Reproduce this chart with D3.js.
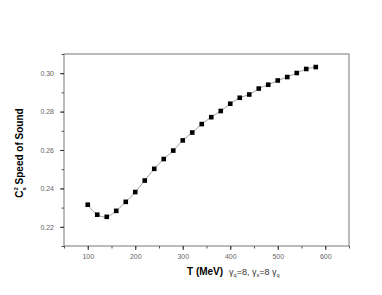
<!DOCTYPE html>
<meta charset="utf-8">
<style>
  body { margin: 0; background: #fff; }
  svg text { font-family: "Liberation Sans", Arial, sans-serif; }
</style>
<body>
<svg id="chart" width="382" height="295"></svg>
<script src="https://cdn.jsdelivr.net/npm/d3@7"></script>
<script>

// data
var temps = [100, 120, 140, 160, 180, 200, 220, 240, 260, 280, 300, 320, 340,
             360, 380, 400, 420, 440, 460, 480, 500, 520, 540, 560, 580];
var cs2 = [0.2315, 0.2263, 0.2252, 0.2283, 0.2330, 0.2381, 0.2441, 0.2502, 0.2553,
           0.2597, 0.2650, 0.2691, 0.2735, 0.2771, 0.2803, 0.2841, 0.2872, 0.2889,
           0.2920, 0.2940, 0.2962, 0.2980, 0.3001, 0.3022, 0.3032];
var xTicks = [100, 200, 300, 400, 500, 600];
var yTicks = [0.22, 0.24, 0.26, 0.28, 0.30];

var svg = d3.select("#chart");
var mLeft = 64, mTop = 54, mRight = 349, mBottom = 246;

var x = d3.scaleLinear().domain([50, 650]).range([mLeft, mRight]);
var y = d3.scaleLinear().domain([0.21, 0.31]).range([mBottom, mTop]);

// frame
svg.append("rect")
  .attr("x", mLeft).attr("y", mTop)
  .attr("width", mRight - mLeft).attr("height", mBottom - mTop)
  .attr("fill", "none").attr("stroke", "#777").attr("stroke-width", 1);

// minor ticks
svg.append("g")
  .attr("transform", "translate(0," + mBottom + ")")
  .call(d3.axisBottom(x).tickValues(d3.range(50, 651, 50)).tickSize(2.5).tickFormat(""))
  .call(function(g) { g.select(".domain").remove(); })
  .selectAll("line").attr("stroke", "#555");
svg.append("g")
  .attr("transform", "translate(" + mLeft + ",0)")
  .call(d3.axisLeft(y).tickValues(d3.range(0.21, 0.3101, 0.01)).tickSize(2.5).tickFormat(""))
  .call(function(g) { g.select(".domain").remove(); })
  .selectAll("line").attr("stroke", "#555");

// major ticks + labels
var xAxis = svg.append("g")
  .attr("transform", "translate(0," + mBottom + ")")
  .call(d3.axisBottom(x).tickValues(xTicks).tickSize(4).tickPadding(4).tickFormat(d3.format("d")));
xAxis.select(".domain").remove();
xAxis.selectAll("line").attr("stroke", "#333");
xAxis.selectAll("text").attr("font-size", 7).attr("fill", "#666")
  .attr("font-family", "'Liberation Sans', Arial, sans-serif");

var yAxis = svg.append("g")
  .attr("transform", "translate(" + mLeft + ",0)")
  .call(d3.axisLeft(y).tickValues(yTicks).tickSize(4).tickPadding(6).tickFormat(d3.format(".2f")));
yAxis.select(".domain").remove();
yAxis.selectAll("line").attr("stroke", "#333");
yAxis.selectAll("text").attr("font-size", 7).attr("fill", "#666")
  .attr("font-family", "'Liberation Sans', Arial, sans-serif");

// connecting line
var line = d3.line()
  .curve(d3.curveCatmullRom)
  .x(function(d, i) { return x(temps[i]); })
  .y(function(d) { return y(d); });
svg.append("path")
  .datum(cs2)
  .attr("d", line)
  .attr("fill", "none")
  .attr("stroke", "#888")
  .attr("stroke-width", 0.8);

// square markers
svg.append("g")
  .selectAll("rect")
  .data(cs2)
  .enter()
  .append("rect")
    .attr("x", function(d, i) { return x(temps[i]) - 2.3; })
    .attr("y", function(d) { return y(d) - 2.3; })
    .attr("width", 4.6).attr("height", 4.6)
    .attr("fill", "#000");

// x label
var xl = svg.append("text")
  .attr("x", 187).attr("y", 275)
  .attr("fill", "#000");
xl.append("tspan").attr("font-size", 10).attr("font-weight", "bold").text("T (MeV)");
xl.append("tspan").attr("font-size", 9).attr("dx", 6).attr("fill", "#333").text("γ");
xl.append("tspan").attr("font-size", 5.5).attr("dy", 2).attr("fill", "#333").text("q");
xl.append("tspan").attr("font-size", 9).attr("dy", -2).attr("fill", "#333").text("=8, γ");
xl.append("tspan").attr("font-size", 5.5).attr("dy", 2).attr("fill", "#333").text("s");
xl.append("tspan").attr("font-size", 9).attr("dy", -2).attr("fill", "#333").text("=8 γ");
xl.append("tspan").attr("font-size", 5.5).attr("dy", 2).attr("fill", "#333").text("q");

// y label
var yl = svg.append("text")
  .attr("transform", "translate(23,153) rotate(-90)")
  .attr("text-anchor", "middle")
  .attr("font-size", 10).attr("font-weight", "bold")
  .attr("fill", "#000");
yl.append("tspan").text("C");
yl.append("tspan").attr("font-size", 6).attr("dy", -5).text("2");
yl.append("tspan").attr("font-size", 6).attr("dx", -3.5).attr("dy", 8).text("s");
yl.append("tspan").attr("dy", -3).text(" Speed of Sound");

</script>
</body>
